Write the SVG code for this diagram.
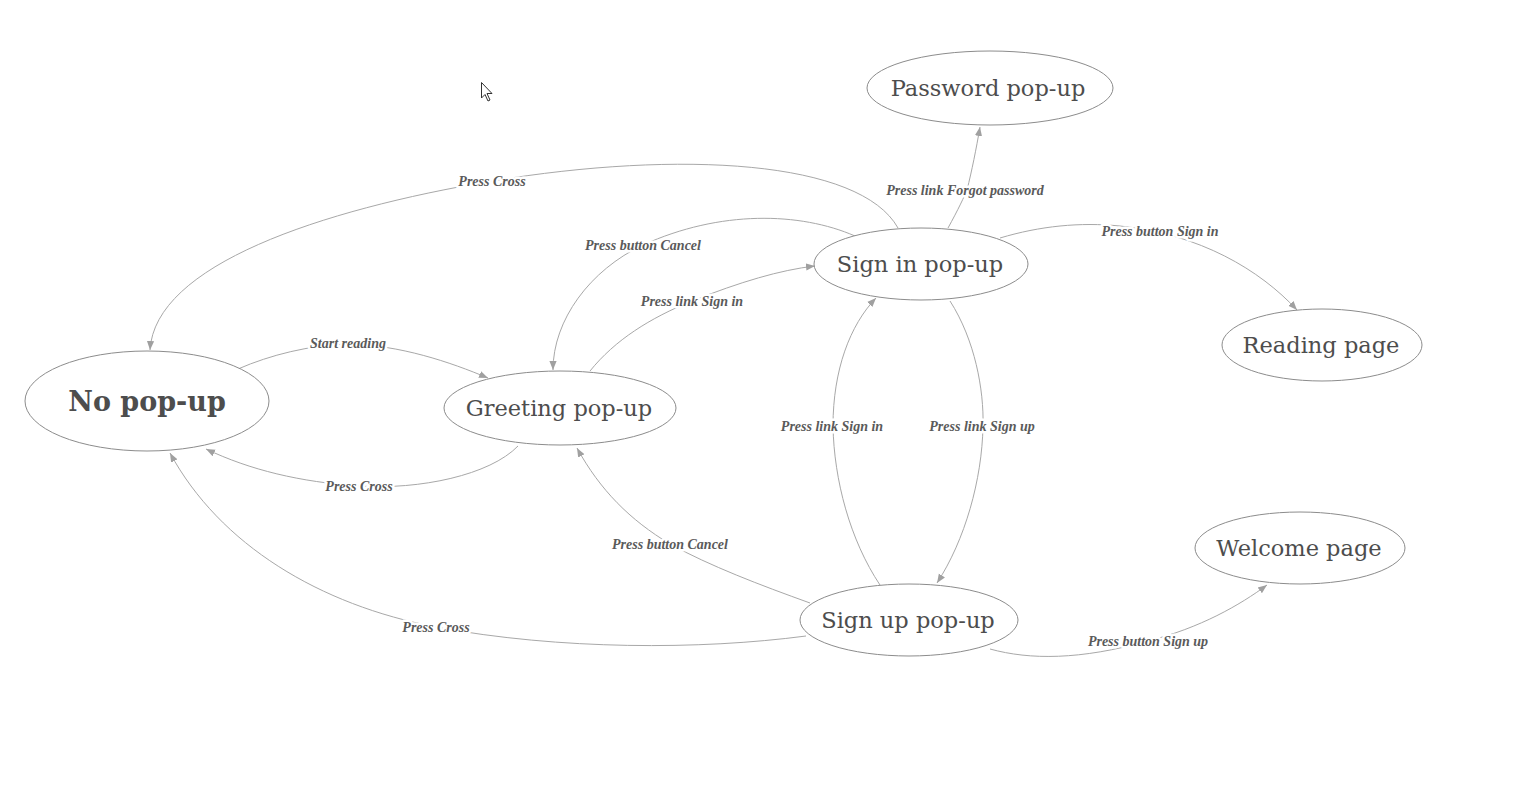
<svg xmlns="http://www.w3.org/2000/svg" width="1534" height="789" viewBox="0 0 1534 789">
<style>
.node ellipse{fill:#fff;stroke:#8c8c8c;stroke-width:1}
.node text{font-family:"DejaVu Serif","Liberation Serif",serif;font-size:22.5px;fill:#4d4d4d;text-anchor:middle;dominant-baseline:central}
.edge path{fill:none;stroke:#a8a8a8;stroke-width:1;marker-end:url(#ah)}
.lbl{font-family:"Liberation Serif",serif;font-style:italic;font-weight:bold;font-size:14px;fill:#5a5a5a;text-anchor:middle;dominant-baseline:central;stroke:#fff;stroke-width:5;paint-order:stroke;stroke-linejoin:round}
</style>
<defs>
<marker id="ah" viewBox="0 0 10 10" refX="10" refY="5" markerWidth="9" markerHeight="9" markerUnits="userSpaceOnUse" orient="auto">
<path d="M0,1 L10,5 L0,9 z" fill="#a0a0a0"/>
</marker>
</defs>
<rect width="1534" height="789" fill="#fff"/>
<g id="connectors">
<g class="edge"><path d="M898,228 C860,160 680,150 492,181 C320,210 155,265 150,350"/></g>
<g class="edge"><path d="M855,236 C800,212 720,210 643,245 C590,270 553,320 553,370"/></g>
<g class="edge"><path d="M590,371 C615,340 650,318 692,301 C740,282 780,270 815,266"/></g>
<g class="edge"><path d="M238,369 C270,355 310,345 348,344 C400,345 450,362 488,378"/></g>
<g class="edge"><path d="M518,446 C490,475 420,490 359,486 C300,482 250,470 206,449"/></g>
<g class="edge"><path d="M810,603 C760,585 710,566 670,544 C630,520 600,490 577,448"/></g>
<g class="edge"><path d="M806,636 C700,650 560,650 436,627 C320,605 220,545 170,453"/></g>
<g class="edge"><path d="M880,585 C850,540 834,480 833,426 C833,370 850,325 876,298"/></g>
<g class="edge"><path d="M950,301 C975,340 984,390 983,426 C982,480 965,540 937,583"/></g>
<g class="edge"><path d="M948,228 C958,210 965,195 967,190 C972,170 976,150 980,127"/></g>
<g class="edge"><path d="M1000,238 C1040,226 1080,222 1120,226 C1200,234 1260,270 1297,310"/></g>
<g class="edge"><path d="M990,649 C1030,660 1080,660 1148,641 C1200,628 1240,605 1267,585"/></g>
<text class="lbl" x="492" y="181">Press Cross</text>
<text class="lbl" x="643" y="245">Press button Cancel</text>
<text class="lbl" x="692" y="301">Press link Sign in</text>
<text class="lbl" x="348" y="343">Start reading</text>
<text class="lbl" x="359" y="486">Press Cross</text>
<text class="lbl" x="670" y="544">Press button Cancel</text>
<text class="lbl" x="436" y="627">Press Cross</text>
<text class="lbl" x="832" y="426">Press link Sign in</text>
<text class="lbl" x="982" y="426">Press link Sign up</text>
<text class="lbl" x="965" y="190">Press link Forgot password</text>
<text class="lbl" x="1160" y="231">Press button Sign in</text>
<text class="lbl" x="1148" y="641">Press button Sign up</text>
</g>
<g id="no-popup" class="node"><ellipse cx="147" cy="401" rx="122" ry="50"/><text x="147" y="401" style="font-size:27px;font-weight:bold">No pop-up</text></g>
<g id="greeting-popup" class="node"><ellipse cx="560" cy="408" rx="116" ry="37"/><text x="559" y="408">Greeting pop-up</text></g>
<g id="signin-popup" class="node"><ellipse cx="921" cy="264" rx="107" ry="36"/><text x="920" y="264">Sign in pop-up</text></g>
<g id="password-popup" class="node"><ellipse cx="990" cy="88" rx="123" ry="37"/><text x="988" y="88">Password pop-up</text></g>
<g id="reading-page" class="node"><ellipse cx="1322" cy="345" rx="100" ry="36"/><text x="1321" y="345">Reading page</text></g>
<g id="welcome-page" class="node"><ellipse cx="1300" cy="548" rx="105" ry="36"/><text x="1299" y="548">Welcome page</text></g>
<g id="signup-popup" class="node"><ellipse cx="909" cy="620" rx="109" ry="36"/><text x="908" y="620">Sign up pop-up</text></g>
<path d="M481.5,82.5 L481.5,98 L485,94.5 L488,101 L490,100 L487,93.5 L492,93.5 Z" fill="#fff" stroke="#333" stroke-width="1"/>
</svg>
